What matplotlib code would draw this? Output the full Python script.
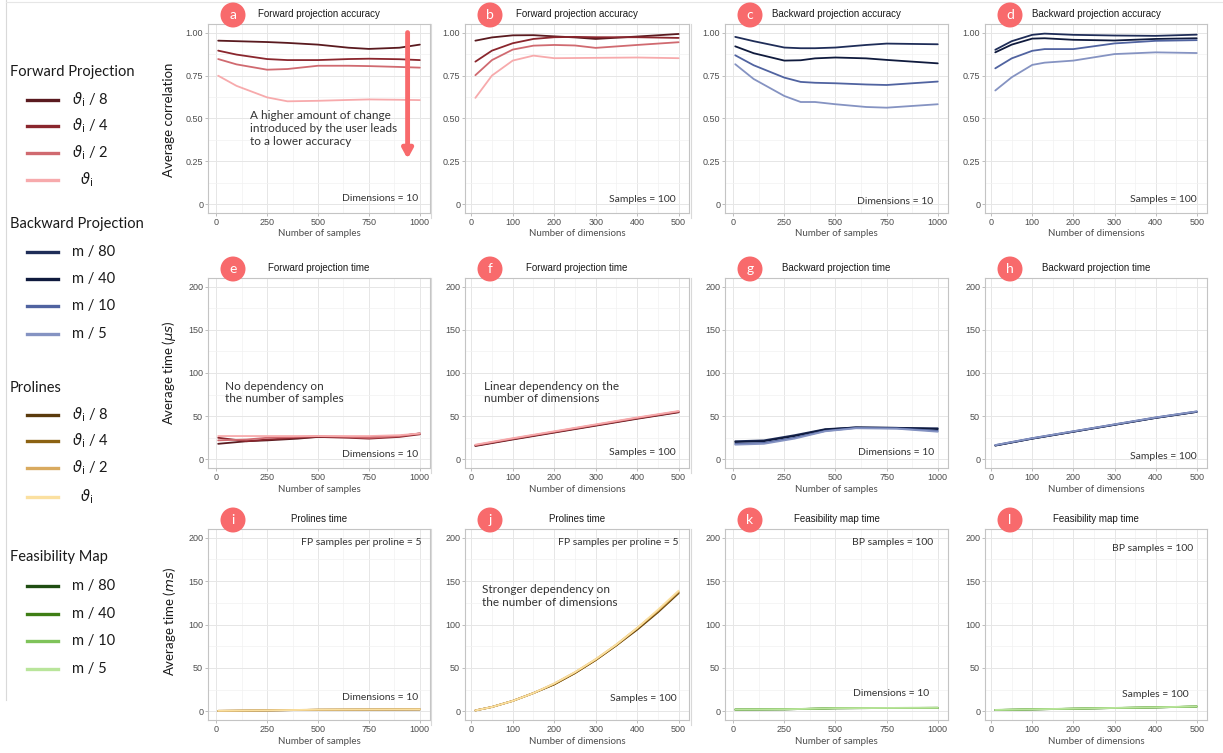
import matplotlib
matplotlib.use("Agg")
import matplotlib.pyplot as plt
from matplotlib.lines import Line2D
from matplotlib.patches import Circle

plt.rcParams['mathtext.fontset'] = 'dejavusans'

W, H = 1223, 753

# ---------------- data ----------------
fp_labels = [r"$\vartheta_{\mathrm{i}}$ / 8", r"$\vartheta_{\mathrm{i}}$ / 4",
             r"$\vartheta_{\mathrm{i}}$ / 2", r"$\vartheta_{\mathrm{i}}$"]
bp_labels = ["m / 80", "m / 40", "m / 10", "m / 5"]

fp_colors = ['#5a1a1f', '#8a262d', '#d06a70', '#f7aaac']
bp_colors = ['#1f2d58', '#0f1a3d', '#5063a0', '#8593c2']
pl_colors = ['#5a3a0c', '#8c6212', '#d9aa5f', '#fbe0a0']
fm_colors = ['#1f4d12', '#3f7e15', '#7fc35a', '#b9e59b']

# a: forward projection accuracy vs samples
a_x = [10, 100, 250, 350, 500, 650, 750, 900, 1000]
a_y = [
    [0.953, 0.950, 0.945, 0.940, 0.930, 0.912, 0.905, 0.912, 0.930],
    [0.895, 0.872, 0.846, 0.840, 0.840, 0.846, 0.848, 0.845, 0.840],
    [0.846, 0.815, 0.784, 0.788, 0.807, 0.807, 0.805, 0.800, 0.796],
    [0.749, 0.690, 0.623, 0.600, 0.603, 0.608, 0.611, 0.609, 0.607],
]
# b: forward projection accuracy vs dimensions
b_x = [10, 50, 100, 150, 200, 250, 300, 400, 500]
b_y = [
    [0.953, 0.972, 0.984, 0.985, 0.978, 0.972, 0.963, 0.977, 0.992],
    [0.831, 0.895, 0.938, 0.963, 0.973, 0.975, 0.973, 0.973, 0.969],
    [0.752, 0.840, 0.901, 0.924, 0.928, 0.925, 0.911, 0.928, 0.944],
    [0.620, 0.750, 0.837, 0.866, 0.851, 0.852, 0.853, 0.855, 0.851],
]
# c: backward projection accuracy vs samples
c_x = [10, 100, 250, 330, 400, 500, 650, 750, 1000]
c_y = [
    [0.975, 0.950, 0.913, 0.909, 0.909, 0.913, 0.928, 0.936, 0.932],
    [0.920, 0.880, 0.837, 0.839, 0.850, 0.855, 0.850, 0.841, 0.821],
    [0.868, 0.810, 0.738, 0.713, 0.708, 0.705, 0.698, 0.695, 0.715],
    [0.816, 0.730, 0.631, 0.596, 0.596, 0.583, 0.567, 0.563, 0.583],
]
# d: backward projection accuracy vs dimensions
d_x = [10, 50, 100, 130, 200, 300, 400, 500]
d_y = [
    [0.900, 0.950, 0.987, 0.994, 0.987, 0.983, 0.981, 0.988],
    [0.885, 0.930, 0.965, 0.967, 0.958, 0.954, 0.963, 0.967],
    [0.792, 0.850, 0.894, 0.904, 0.904, 0.937, 0.952, 0.956],
    [0.663, 0.740, 0.812, 0.825, 0.837, 0.875, 0.885, 0.881],
]
# e: forward projection time vs samples (us)
e_x = [10, 150, 250, 400, 500, 650, 750, 900, 1000]
e_y = [
    [18, 21, 22, 24, 26, 26, 26, 27, 30],
    [25, 21, 23, 25, 26, 25, 24, 26, 29],
    [22, 23, 25, 26, 27, 26, 25, 27, 30],
    [27, 27, 27, 27, 27, 27, 27, 28, 30],
]
# f: forward projection time vs dimensions
f_x = [10, 100, 200, 300, 400, 500]
f_y = [
    [15.5, 23.0, 31.0, 39.0, 47.0, 54.5],
    [16.0, 23.5, 31.5, 39.5, 47.5, 55.0],
    [16.5, 24.0, 32.0, 40.0, 48.0, 55.5],
    [17.0, 24.5, 32.5, 40.5, 48.5, 56.0],
]
# g: backward projection time vs samples
g_x = [10, 150, 300, 450, 600, 800, 1000]
g_y = [
    [21, 22, 28, 35.0, 37.0, 36.5, 36],
    [20, 21, 27, 34.5, 37.0, 36.5, 35],
    [18, 19, 25, 33.0, 36.5, 36.0, 33],
    [17, 18, 24, 32.5, 36.0, 35.5, 32],
]
# h: backward projection time vs dimensions
h_x = [10, 100, 200, 300, 400, 500]
h_y = [
    [16.0, 24.0, 32.0, 40.0, 48.0, 55.0],
    [16.0, 24.0, 32.0, 40.0, 48.0, 55.0],
    [16.5, 24.5, 32.5, 40.5, 48.5, 55.5],
    [16.5, 24.5, 32.5, 40.5, 48.5, 55.5],
]
# i: prolines time vs samples (ms)
i_x = [10, 250, 500, 750, 1000]
i_y = [
    [0.5, 1.0, 1.8, 2.0, 2.2],
    [0.5, 1.0, 1.8, 2.0, 2.2],
    [0.6, 1.1, 1.9, 2.1, 2.3],
    [0.6, 1.1, 1.9, 2.1, 2.3],
]
# j: prolines time vs dimensions
j_x = [10, 50, 100, 150, 200, 250, 300, 350, 400, 450, 500]
j_y = [
    [1, 5, 12, 21, 31, 44, 59, 76, 94, 114, 136],
    [1, 5, 12, 21, 31, 44, 59, 76, 95, 115, 137],
    [1, 5, 12, 21, 32, 45, 60, 77, 96, 116, 138],
    [1, 5, 12, 21, 32, 45, 60, 77, 96, 117, 139],
]
# k: feasibility map time vs samples
k_x = [10, 250, 300, 500, 750, 1000]
k_y = [
    [2.0, 2.3, 2.5, 3.5, 3.8, 4.0],
    [2.0, 2.3, 2.5, 3.5, 3.8, 4.0],
    [2.1, 2.4, 2.6, 3.6, 3.9, 4.1],
    [2.1, 2.4, 2.6, 3.6, 3.9, 4.1],
]
# l: feasibility map time vs dimensions
l_x = [10, 100, 200, 300, 400, 500]
l_y = [
    [1.5, 2.2, 3.0, 3.8, 4.5, 5.5],
    [1.5, 2.2, 3.0, 3.8, 4.5, 5.5],
    [1.6, 2.3, 3.1, 3.9, 4.6, 5.6],
    [1.6, 2.3, 3.1, 3.9, 4.6, 5.6],
]

acc_ticks = [0, 0.25, 0.5, 0.75, 1.0]
acc_ticklabels = ["0", "0.25", "0.50", "0.75", "1.00"]
time_ticks = [0, 50, 100, 150, 200]
sample_ticks = [0, 250, 500, 750, 1000]
dim_ticks = [0, 100, 200, 300, 400, 500]

# ---------------- layout ----------------
fig = plt.figure(figsize=(W / 100, H / 100), dpi=100)
fig.patch.set_facecolor('white')

cols = [(208, 430), (465, 689), (725, 948), (985, 1207)]
rows = [(24, 213), (278, 468), (529, 720)]

TICK_FONT = 'Liberation Sans'
SOFT = 'Lato'
BADGE = '#f86a6c'


def fx(px):
    return px / W


def fy(py):
    return 1 - py / H


def make_axes(r, c):
    l, rr = cols[c]
    t, b = rows[r]
    return fig.add_axes([fx(l), fy(b), (rr - l) / W, (b - t) / H])


def style(ax, kind_x, kind_y):
    if kind_x == 'samples':
        ax.set_xlim(-40, 1050)
        ax.set_xticks(sample_ticks)
        ax.set_xticks([125, 375, 625, 875], minor=True)
    else:
        ax.set_xlim(-15, 525)
        ax.set_xticks(dim_ticks)
        ax.set_xticks([50, 150, 250, 350, 450], minor=True)
    if kind_y == 'acc':
        ax.set_ylim(-0.05, 1.05)
        ax.set_yticks(acc_ticks)
        ax.set_yticklabels(acc_ticklabels)
        ax.set_yticks([0.125, 0.375, 0.625, 0.875], minor=True)
    else:
        ax.set_ylim(-10, 210)
        ax.set_yticks(time_ticks)
        ax.set_yticks([25, 75, 125, 175], minor=True)
    ax.grid(True, which='major', color='#e6e6e6', lw=0.7)
    ax.grid(True, which='minor', color='#f2f2f2', lw=0.5)
    ax.set_axisbelow(True)
    for s in ax.spines.values():
        s.set_color('#c4c4c4')
        s.set_linewidth(0.8)
    ax.tick_params(which='major', length=2, width=0.6, color='#b3b3b3',
                   labelsize=6.5, labelcolor='#4d4d4d', pad=1.5)
    ax.tick_params(which='minor', length=0)
    for lab in ax.get_xticklabels() + ax.get_yticklabels():
        lab.set_family(TICK_FONT)


def badge(r, c, letter, dy=0):
    l, _ = cols[c]
    t, _ = rows[r]
    cx, cy = l + 25, t - 9 + dy
    circ = Circle((cx / 100, (H - cy) / 100), 0.125, transform=fig.dpi_scale_trans,
                  facecolor=BADGE, edgecolor='none', zorder=10)
    fig.patches.append(circ)
    fig.text(fx(cx), fy(cy), letter, ha='center', va='center', color='white',
             fontsize=10, family=SOFT, zorder=11)


def title(r, c, txt):
    l, rr = cols[c]
    t, _ = rows[r]
    fig.text(fx((l + rr) / 2), fy(t - 10), txt, ha='center', va='center',
             fontsize=7, family=TICK_FONT, color='#1a1a1a')


def xlabel(r, c, txt):
    l, rr = cols[c]
    _, b = rows[r]
    fig.text(fx((l + rr) / 2), fy(b + 21), txt, ha='center', va='center',
             fontsize=7, family=SOFT, color='#4d4d4d')


def note(ax, x, y, txt, ha='right', va='center', size=7.5):
    ax.text(x, y, txt, transform=ax.transAxes, ha=ha, va=va, fontsize=size,
            family=SOFT, color='#333333')


panels = [
    (0, 0, 'a', 'Forward projection accuracy', a_x, a_y, fp_colors, 'samples', 'acc', 'Number of samples'),
    (0, 1, 'b', 'Forward projection accuracy', b_x, b_y, fp_colors, 'dims', 'acc', 'Number of dimensions'),
    (0, 2, 'c', 'Backward projection accuracy', c_x, c_y, bp_colors, 'samples', 'acc', 'Number of samples'),
    (0, 3, 'd', 'Backward projection accuracy', d_x, d_y, bp_colors, 'dims', 'acc', 'Number of dimensions'),
    (1, 0, 'e', 'Forward projection time', e_x, e_y, fp_colors, 'samples', 'time', 'Number of samples'),
    (1, 1, 'f', 'Forward projection time', f_x, f_y, fp_colors, 'dims', 'time', 'Number of dimensions'),
    (1, 2, 'g', 'Backward projection time', g_x, g_y, bp_colors, 'samples', 'time', 'Number of samples'),
    (1, 3, 'h', 'Backward projection time', h_x, h_y, bp_colors, 'dims', 'time', 'Number of dimensions'),
    (2, 0, 'i', 'Prolines time', i_x, i_y, pl_colors, 'samples', 'time', 'Number of samples'),
    (2, 1, 'j', 'Prolines time', j_x, j_y, pl_colors, 'dims', 'time', 'Number of dimensions'),
    (2, 2, 'k', 'Feasibility map time', k_x, k_y, fm_colors, 'samples', 'time', 'Number of samples'),
    (2, 3, 'l', 'Feasibility map time', l_x, l_y, fm_colors, 'dims', 'time', 'Number of dimensions'),
]

axes = {}
for r, c, letter, ttl, xs, ys, colors, kx, ky, xl in panels:
    ax = make_axes(r, c)
    for series, col in zip(ys, colors):
        ax.plot(xs, series, color=col, lw=1.3, solid_capstyle='round')
    style(ax, kx, ky)
    title(r, c, ttl)
    xlabel(r, c, xl)
    axes[letter] = ax

for r, c, letter, *_ in panels:
    badge(r, c, letter)

# corner notes
note(axes['a'], 0.945, 0.075, 'Dimensions = 10')
note(axes['b'], 0.94, 0.07, 'Samples = 100')
note(axes['c'], 0.935, 0.06, 'Dimensions = 10')
note(axes['d'], 0.955, 0.07, 'Samples = 100')
note(axes['e'], 0.945, 0.07, 'Dimensions = 10')
note(axes['f'], 0.94, 0.08, 'Samples = 100')
note(axes['g'], 0.937, 0.08, 'Dimensions = 10')
note(axes['h'], 0.955, 0.06, 'Samples = 100')
note(axes['i'], 0.946, 0.12, 'Dimensions = 10')
note(axes['i'], 0.96, 0.927, 'FP samples per proline = 5')
note(axes['j'], 0.946, 0.11, 'Samples = 100')
note(axes['j'], 0.955, 0.93, 'FP samples per proline = 5')
note(axes['k'], 0.915, 0.14, 'Dimensions = 10')
note(axes['k'], 0.933, 0.927, 'BP samples = 100')
note(axes['l'], 0.915, 0.136, 'Samples = 100')
note(axes['l'], 0.937, 0.90, 'BP samples = 100')

# big annotations
note(axes['a'], 0.19, 0.545, 'A higher amount of change\nintroduced by the user leads\nto a lower accuracy',
     ha='left', va='top', size=8.5)
note(axes['e'], 0.077, 0.46, 'No dependency on\nthe number of samples', ha='left', va='top', size=8.5)
note(axes['f'], 0.085, 0.46, 'Linear dependency on the\nnumber of dimensions', ha='left', va='top', size=8.5)
note(axes['j'], 0.076, 0.71, 'Stronger dependency on\nthe number of dimensions', ha='left', va='top', size=8.5)

axes['a'].annotate('', xy=(940, 0.265), xytext=(940, 1.0),
                   arrowprops=dict(arrowstyle='-|>,head_width=0.3,head_length=0.55',
                                   lw=3.5, color=BADGE, shrinkA=0, shrinkB=0))

# y labels
fig.text(fx(169), fy(120), 'Average correlation', rotation=90, ha='center', va='center',
         fontsize=9.5, family=SOFT, color='#1a1a1a')
fig.text(fx(169), fy(373), r'Average time ($\mu s$)', rotation=90, ha='center', va='center',
         fontsize=9.5, family=SOFT, color='#1a1a1a')
fig.text(fx(169), fy(622), r'Average time ($ms$)', rotation=90, ha='center', va='center',
         fontsize=9.5, family=SOFT, color='#1a1a1a')

# ---------------- legend ----------------
legend_groups = [
    ('Forward Projection', 72, [100, 126, 153, 180], fp_labels, fp_colors),
    ('Backward Projection', 224, [252, 279, 306, 334], bp_labels, bp_colors),
    ('Prolines', 388, [415, 441, 468, 497], fp_labels, pl_colors),
    ('Feasibility Map', 557, [586, 614, 641, 669], bp_labels, fm_colors),
]
for head, hy, ys, labels, colors in legend_groups:
    fig.text(fx(10), fy(hy), head, ha='left', va='center', fontsize=10.5,
             family=SOFT, color='#1a1a1a')
    for yy, lab, col in zip(ys, labels, colors):
        fig.add_artist(Line2D([fx(27), fx(58)], [fy(yy), fy(yy)], color=col, lw=2.4))
        x0 = 80 if lab.endswith('}$') else 72
        fig.text(fx(x0), fy(yy), lab, ha='left', va='center', fontsize=10.5,
                 family=SOFT, color='#1a1a1a')

# faint frame lines of the composed panels
fig.add_artist(Line2D([fx(6), fx(6)], [fy(0), fy(700)], color='#d9d9d9', lw=0.8))
fig.add_artist(Line2D([fx(6), fx(1223)], [fy(2), fy(2)], color='#e6e6e6', lw=0.8))
for xv in [431, 691]:
    for t, b in rows:
        fig.add_artist(Line2D([fx(xv), fx(xv)], [fy(t), fy(b + 5)], color='#d9d9d9', lw=0.8))

fig.savefig('out.png', dpi=100)
